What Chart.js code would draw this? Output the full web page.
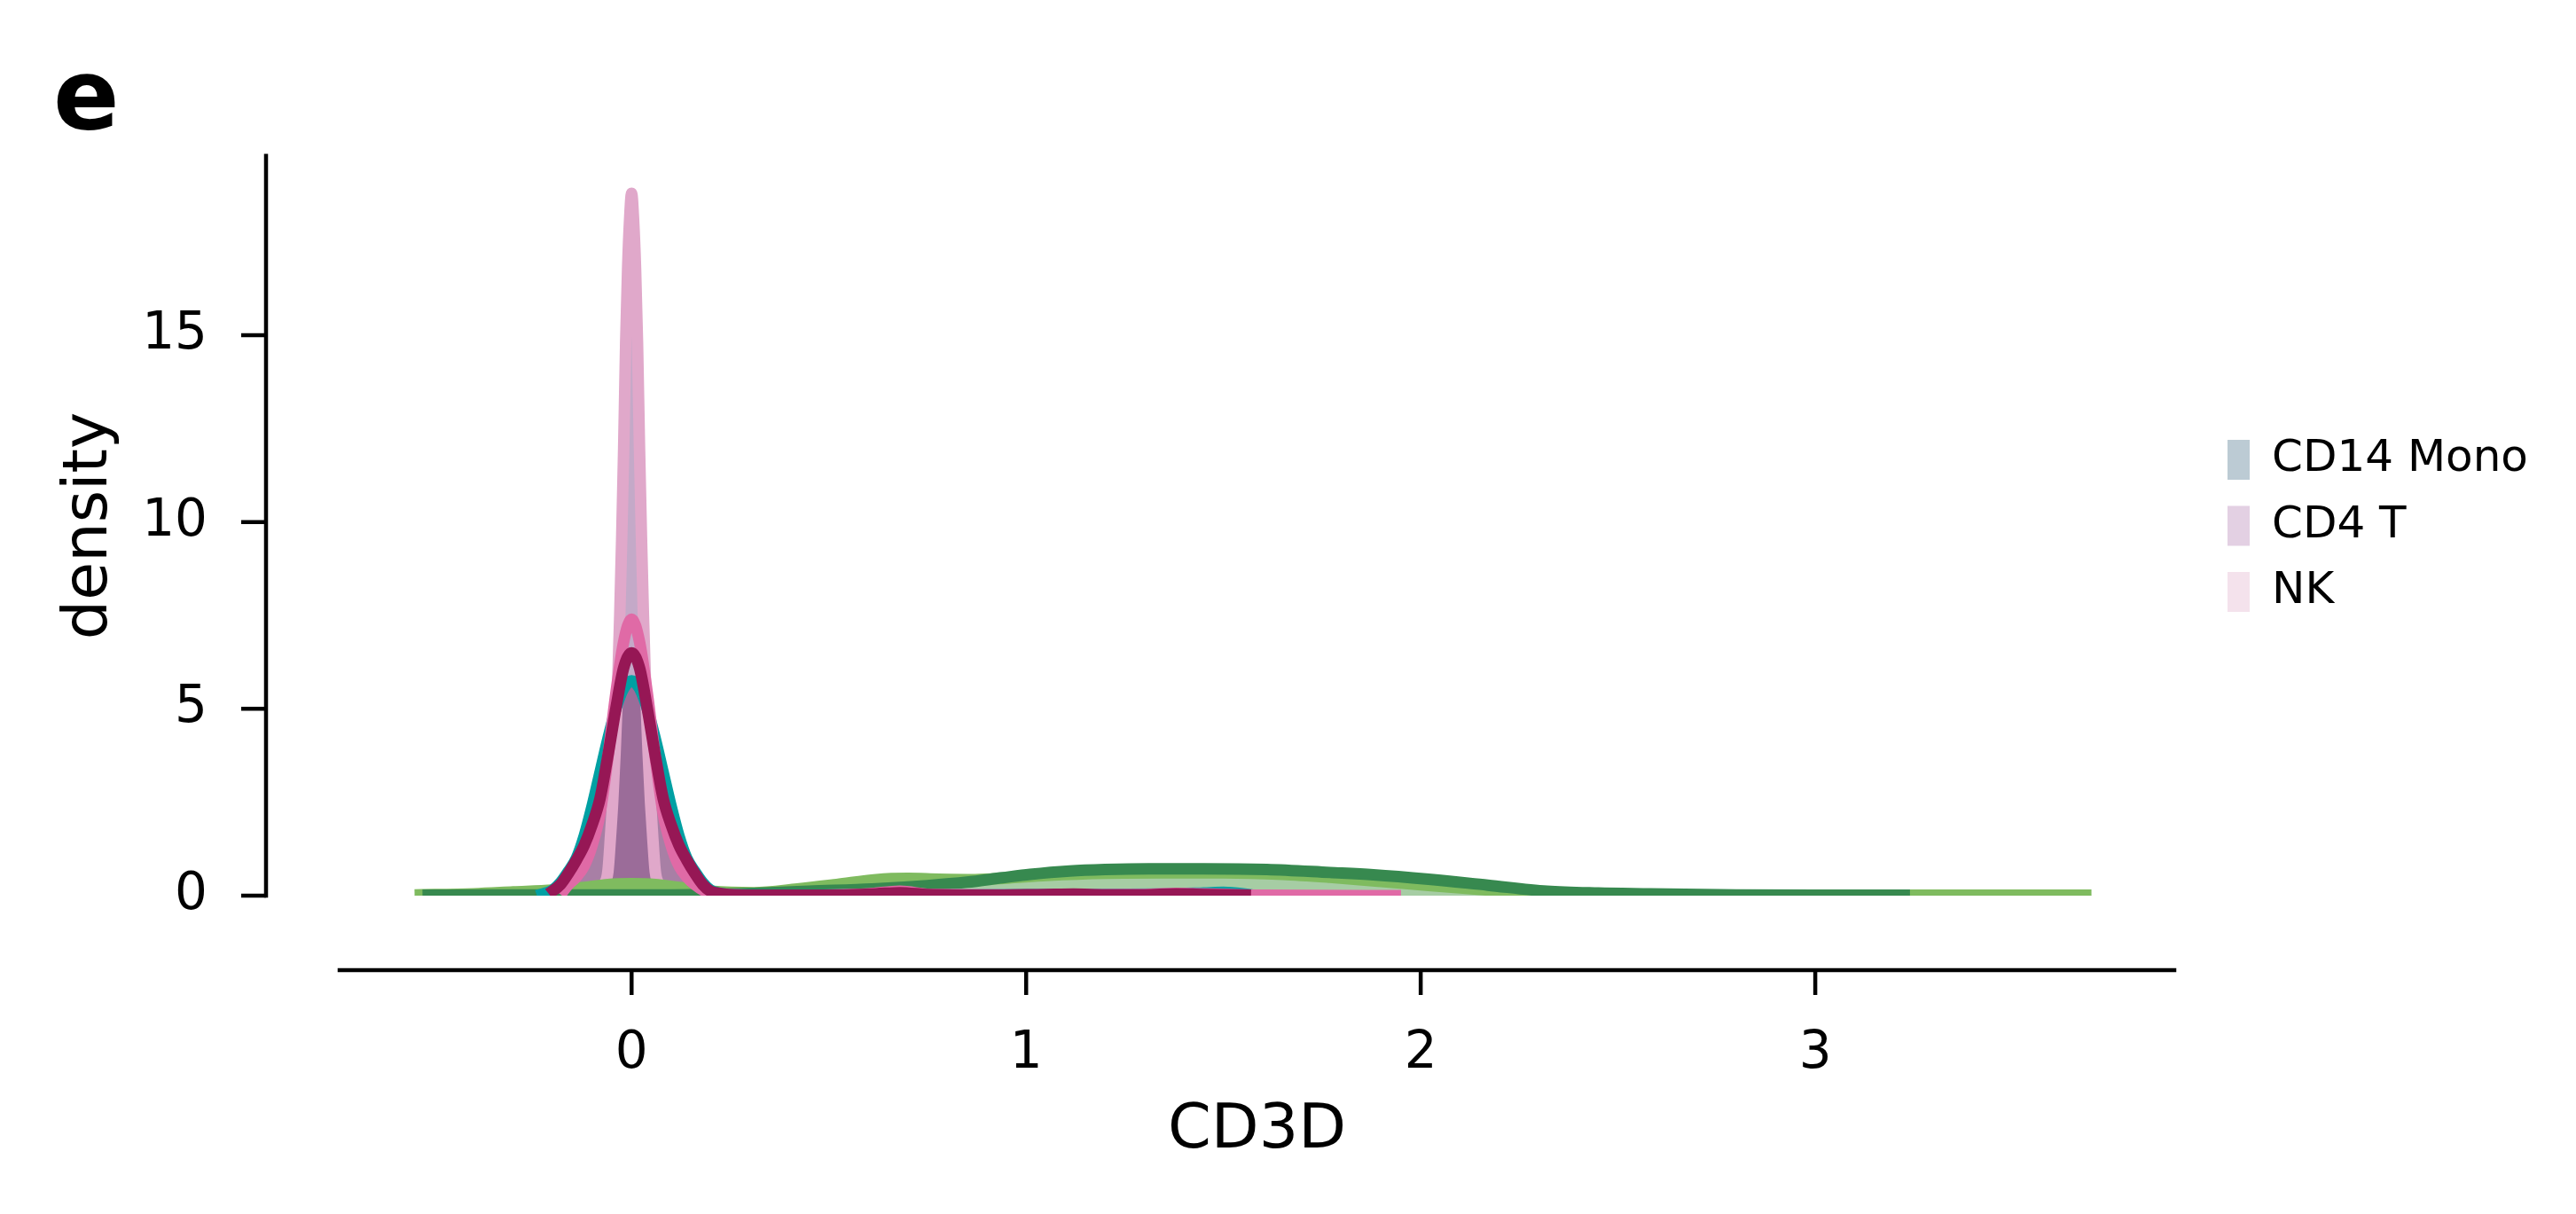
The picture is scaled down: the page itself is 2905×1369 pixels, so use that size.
<!DOCTYPE html>
<html>
<head>
<meta charset="utf-8">
<title>CD3D density</title>
<script src="https://cdn.jsdelivr.net/npm/chart.js@4.4.1/dist/chart.umd.min.js"></script>
<style>
  html, body { margin: 0; padding: 0; background: #fff; }
  #wrap { width: 2905px; height: 1369px; }
</style>
</head>
<body>
<div id="wrap"><canvas id="densityChart" width="2905" height="1369"></canvas></div>
<script>
/* ========== DATA ========== */
const xTicks = [0, 1, 2, 3];
const yTicks = [0, 5, 10, 15];
const groupNames = ["CD14 Mono", "CD4 T", "NK"];
const groupColors = ["#bccbd4", "#e3d0e3", "#f4e2ec"];

// tall narrow spike at 0
const spikeX = [-0.15, -0.13, -0.1, -0.085, -0.07, -0.06, -0.054, -0.048, -0.042, -0.036, -0.03, -0.025, -0.02, -0.015, -0.01, -0.005, 0,
                0.005, 0.01, 0.015, 0.02, 0.025, 0.03, 0.036, 0.042, 0.048, 0.054, 0.06, 0.07, 0.085, 0.1, 0.13, 0.2, 0.4, 0.7, 1.0, 1.3, 1.6, 1.8, 2.02];
const spikeY = [0, 0.02, 0.04, 0.1, 0.3, 0.65, 1.5, 2.5, 3.8, 5.4, 7.5, 9.6, 12.0, 14.8, 16.8, 18.1, 18.8,
                18.1, 16.8, 14.8, 12.0, 9.6, 7.5, 5.4, 3.8, 2.5, 1.5, 0.65, 0.3, 0.1, 0.04, 0.02, 0.01, 0.01, 0.02, 0.01, 0.01, 0.01, 0.01, 0];

// teal curve
const tealX = [-0.24, -0.2, -0.18, -0.16, -0.14, -0.12, -0.1, -0.08, -0.06, -0.04, -0.02, 0, 0.02, 0.04, 0.06, 0.08, 0.1, 0.12, 0.14, 0.16, 0.18, 0.2, 0.23, 0.28, 0.5, 0.8, 1.1, 1.35, 1.45, 1.5, 1.55, 1.58];
const tealY = [0, 0.15, 0.35, 0.65, 1.0, 1.6, 2.4, 3.3, 4.2, 5.0, 5.55, 5.75, 5.55, 5.0, 4.2, 3.3, 2.4, 1.6, 1.0, 0.65, 0.35, 0.15, 0.05, 0.02, 0.02, 0.02, 0.03, 0.04, 0.07, 0.09, 0.05, 0];

// hot pink curve
const pinkX = [-0.18, -0.16, -0.14, -0.12, -0.1, -0.08, -0.06, -0.04, -0.02, 0, 0.02, 0.04, 0.06, 0.08, 0.1, 0.12, 0.14, 0.16, 0.19, 0.22, 0.4, 0.6, 0.68, 0.76, 1.0, 1.3, 1.38, 1.6, 1.95];
const pinkY = [0.03, 0.3, 0.5, 0.8, 1.35, 2.2, 3.7, 5.4, 6.8, 7.4, 6.8, 5.4, 3.7, 2.2, 1.35, 0.8, 0.5, 0.3, 0.1, 0.03, 0.01, 0.05, 0.12, 0.03, 0.02, 0.03, 0.06, 0.01, 0];

// crimson curve
const crimsonX = [-0.21, -0.18, -0.16, -0.14, -0.12, -0.1, -0.08, -0.06, -0.04, -0.02, 0, 0.02, 0.04, 0.06, 0.08, 0.1, 0.12, 0.14, 0.16, 0.18, 0.2, 0.23, 0.3, 0.5, 0.62, 0.68, 0.75, 0.9, 1.05, 1.12, 1.2, 1.3, 1.38, 1.45, 1.57];
const crimsonY = [0.05, 0.3, 0.6, 0.95, 1.35, 1.9, 2.6, 3.75, 5.0, 6.1, 6.5, 6.1, 5.0, 3.75, 2.6, 1.9, 1.35, 0.95, 0.6, 0.3, 0.12, 0.05, 0.01, 0.01, 0.05, 0.08, 0.03, 0.01, 0.03, 0.04, 0.02, 0.02, 0.05, 0.03, 0.01];

// purple baseline tail
const purpleX = [-0.12, 0.3, 0.8, 1.3, 1.8, 2.05, 2.2, 2.3];
const purpleY = [0.01, 0.01, 0.01, 0.02, 0.01, 0.01, 0.01, 0];

// light green curve
const lightGreenX = [-0.55, -0.4, -0.3, -0.2, -0.12, -0.06, 0, 0.06, 0.12, 0.2, 0.31, 0.42, 0.52, 0.62, 0.7, 0.78, 0.87, 0.95, 1.05, 1.2, 1.35, 1.5, 1.65, 1.77, 1.9, 2.02, 2.17, 2.3, 2.45, 2.7, 3.0, 3.4, 3.7];
const lightGreenY = [0.02, 0.05, 0.1, 0.15, 0.22, 0.3, 0.32, 0.3, 0.22, 0.12, 0.08, 0.18, 0.3, 0.43, 0.46, 0.44, 0.43, 0.47, 0.54, 0.6, 0.61, 0.61, 0.57, 0.49, 0.38, 0.27, 0.15, 0.06, 0.02, 0.01, 0.01, 0.01, 0.01];

// dark green curve
const darkGreenX = [-0.53, -0.35, -0.2, -0.05, 0.1, 0.2, 0.31, 0.45, 0.61, 0.75, 0.85, 0.94, 1.01, 1.11, 1.2, 1.31, 1.45, 1.61, 1.77, 1.88, 2.02, 2.17, 2.32, 2.45, 2.57, 2.8, 3.0, 3.24];
const darkGreenY = [0.01, 0.02, 0.02, 0.02, 0.02, 0.03, 0.06, 0.12, 0.18, 0.27, 0.36, 0.48, 0.57, 0.66, 0.7, 0.72, 0.72, 0.7, 0.62, 0.56, 0.44, 0.28, 0.12, 0.07, 0.05, 0.02, 0.01, 0.01];

/* ========== HELPERS ========== */
const FONT = '"DejaVu Sans", sans-serif';
const W = 2905, H = 1369;
const AREA_RIGHT = 2452;

const pts = (xs, ys) => xs.map((x, i) => ({ x, y: ys[i] }));

function curve(xs, ys, color, width, extra) {
    return Object.assign({
        data: pts(xs, ys),
        borderColor: color,
        borderWidth: width,
        backgroundColor: 'rgba(0,0,0,0)',
        fill: false,
        pointRadius: 0,
        borderJoinStyle: 'round',
        cubicInterpolationMode: 'monotone',
        clip: 0
    }, extra || {});
}

// datasets listed bottom -> top
const layers = [
    curve(spikeX, spikeY, 'rgba(0,0,0,0)', 0, { fill: 'origin', backgroundColor: '#c4a9c8' }),
    curve(tealX, tealY, 'rgba(0,0,0,0)', 0, { fill: 'origin', backgroundColor: 'rgba(144,91,140,0.78)' }),
    curve(purpleX, purpleY, '#a870b0', 13),
    curve(spikeX, spikeY, '#e0a8ca', 13),
    curve(lightGreenX, lightGreenY, '#7fbb5f', 13, { fill: 'origin', backgroundColor: '#a6cda4' }),
    curve(darkGreenX, darkGreenY, '#37894f', 13),
    curve(tealX, tealY, '#00a0a3', 13),
    curve(pinkX, pinkY, '#e06aa6', 13),
    curve(crimsonX, crimsonY, '#961755', 13)
];
layers.forEach((d, i) => d.order = layers.length - i);

/* ========== OFFSET SPINES ========== */
const spines = {
    id: 'spines',
    afterDraw(chart) {
        const { ctx, chartArea: a, scales: { x, y } } = chart;
        const sx = a.left - 83;
        const sy = a.bottom + 84;
        ctx.save();
        ctx.strokeStyle = '#000';
        ctx.lineWidth = 4.5;
        ctx.lineCap = 'square';
        ctx.beginPath();
        ctx.moveTo(sx, y.getPixelForValue(y.max));
        ctx.lineTo(sx, y.getPixelForValue(0));
        ctx.moveTo(a.left, sy);
        ctx.lineTo(a.right, sy);
        ctx.stroke();
        ctx.lineCap = 'butt';
        ctx.beginPath();
        y.ticks.forEach(t => {
            const p = y.getPixelForValue(t.value);
            ctx.moveTo(sx - 28, p);
            ctx.lineTo(sx, p);
        });
        x.ticks.forEach(t => {
            const p = x.getPixelForValue(t.value);
            ctx.moveTo(p, sy);
            ctx.lineTo(p, sy + 28);
        });
        ctx.stroke();
        ctx.restore();
    }
};

/* ========== LEGEND PLACEMENT ========== */
const legendShift = {
    id: 'legendShift',
    afterLayout(chart) {
        const lg = chart.legend;
        if (!lg) return;
        const dx = chart.chartArea.right + 60 - lg.options.labels.padding - lg.left;
        lg.left += dx;
        lg.right += dx;
    }
};

const mctx = document.createElement('canvas').getContext('2d');
mctx.font = '50px ' + FONT;
const textW = Math.max(...groupNames.map(n => mctx.measureText(n).width));
const padRight = W - AREA_RIGHT - (24.5 + 25 + 25 + textW + 10);

Chart.defaults.font.family = FONT;
Chart.defaults.color = '#000';

const chart = new Chart(document.getElementById('densityChart'), {
    type: 'line',
    data: { datasets: layers },
    options: {
        responsive: false,
        animation: false,
        devicePixelRatio: 1,
        layout: { padding: { left: 60, right: padRight, top: 0, bottom: 0 } },
        scales: {
            x: {
                type: 'linear',
                min: -0.74,
                max: 3.91,
                grid: { display: false },
                border: { display: false },
                afterBuildTicks: s => { s.ticks = xTicks.map(v => ({ value: v })); },
                afterFit: s => { s.height = H - 1010; },
                ticks: { padding: 136, font: { size: 58 }, color: '#000' },
                title: { display: true, text: 'CD3D', font: { size: 70 }, color: '#000', padding: { top: 0, bottom: 51 } }
            },
            y: {
                type: 'linear',
                min: 0,
                max: 19.8,
                grid: { display: false },
                border: { display: false },
                afterBuildTicks: s => { s.ticks = yTicks.map(v => ({ value: v })); },
                afterFit: s => { s.width = 383 - 60; },
                ticks: { padding: 141, font: { size: 58 }, color: '#000' },
                title: { display: true, text: 'density', font: { size: 70 }, color: '#000', padding: { top: 0, bottom: 0 } }
            }
        },
        plugins: {
            tooltip: { enabled: false },
            title: {
                display: true,
                text: 'e',
                align: 'start',
                color: '#000',
                font: { size: 110, weight: 'bold', lineHeight: 1 },
                padding: { top: 61, bottom: 4 }
            },
            legend: {
                position: 'right',
                align: 'center',
                fullSize: false,
                labels: {
                    boxWidth: 25,
                    boxHeight: 45,
                    padding: 24.5,
                    color: '#000',
                    font: { size: 50 },
                    generateLabels: () => groupNames.map((name, i) => ({
                        text: name,
                        fillStyle: groupColors[i],
                        strokeStyle: groupColors[i],
                        lineWidth: 0,
                        hidden: false,
                        datasetIndex: i
                    }))
                }
            }
        }
    },
    plugins: [spines, legendShift]
});

// pin the right edge of the plot area
const diff = chart.chartArea.right - AREA_RIGHT;
if (Math.abs(diff) > 0.5) {
    chart.options.layout.padding.right += diff;
    chart.update();
}
</script>
</body>
</html>
